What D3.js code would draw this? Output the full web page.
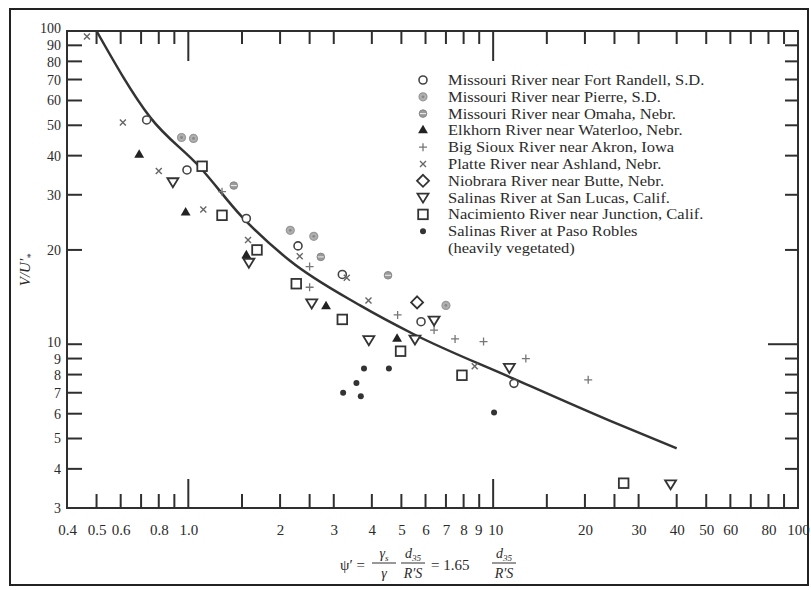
<!DOCTYPE html>
<html><head><meta charset="utf-8">
<script src="https://cdn.jsdelivr.net/npm/d3@7/dist/d3.min.js"></script>
<style>
html,body{margin:0;padding:0;background:#fff;}
svg{display:block;}
text{font-family:"Liberation Serif","Times New Roman",serif;fill:#2b2b2b;}
</style></head>
<body>
<svg id="chart" width="811" height="590"></svg>
<script>
// ---------- data ----------
const xTickLabels = ["0.4","0.5","0.6","0.8","1.0","2","3","4","5","6","7","8","9","10","20","30","40","50","60","80","100"];
const xTickLabelValues = [0.4,0.5,0.6,0.8,1,2,3,4,5,6,7,8,9,10,20,30,40,50,60,80,100];
const xMinorTicks = [0.5,0.6,0.7,0.8,0.9,1.5,2,2.5,3,4,5,6,7,8,9,15,20,25,30,40,50,60,70,80,90];
const xMajorTicks = [1,10];
const yTickValues = [3,4,5,6,7,8,9,10,20,30,40,50,60,70,80,90,100];
const yTickLabels = ["3","4","5","6","7","8","9","10","20","30","40","50","60","70","80","90","100"];

const curve = [[0.5,100],[0.75,53],[1.09,36.8],[1.5,25.5],[2.15,18.5],[3.66,13.3],[5.45,10.8],[11.6,7.78],[24.1,5.7],[40,4.65]];

const fortRandell = [[0.73,52],[0.99,36],[1.55,25.2],[2.29,20.6],[3.2,16.7],[5.8,11.8],[11.7,7.5]];
const pierre = [[0.95,45.7],[1.04,45.4],[2.16,23.1],[2.58,22.1],[7.0,13.3]];
const omaha = [[1.41,32.1],[2.72,19.0],[4.52,16.6]];
const elkhorn = [[0.69,40.2],[0.98,26.3],[1.55,19.2],[2.83,13.2],[4.84,10.4]];
const bigSioux = [[1.29,30.7],[2.5,17.7],[2.5,15.2],[4.86,12.4],[6.4,11.1],[7.5,10.4],[9.3,10.2],[12.8,9.0],[20.5,7.7]];
const platte = [[0.465,96],[0.61,51],[0.80,35.7],[1.12,26.9],[1.57,21.5],[2.32,19.1],[3.31,16.3],[3.9,13.8],[8.7,8.5]];
const niobrara = [[5.63,13.6]];
const sanLucas = [[0.89,32.9],[1.58,18.2],[2.54,13.5],[3.91,10.3],[5.54,10.35],[6.4,11.9],[11.3,8.4],[38.2,3.57]];
const nacimiento = [[1.11,37],[1.29,25.8],[1.68,20.0],[2.26,15.6],[3.2,12.0],[4.97,9.5],[7.9,7.96],[26.8,3.6]];
const pasoRobles = [[3.77,8.36],[4.55,8.37],[3.56,7.52],[3.22,7.0],[3.68,6.82],[10.07,6.05]];

const legendLabels = [
  "Missouri River near Fort Randell, S.D.",
  "Missouri River near Pierre, S.D.",
  "Missouri River near Omaha, Nebr.",
  "Elkhorn River near Waterloo, Nebr.",
  "Big Sioux River near Akron, Iowa",
  "Platte River near Ashland, Nebr.",
  "Niobrara River near Butte, Nebr.",
  "Salinas River at San Lucas, Calif.",
  "Nacimiento River near Junction, Calif.",
  "Salinas River at Paso Robles",
  "(heavily vegetated)"
];

// ---------- setup ----------
const svg = d3.select("#chart");
const ink = "#2f2f2f";
const x = d3.scaleLog().domain([0.4,100]).range([67,798]);
const y = d3.scaleLog().domain([3,100]).range([508,31]);

// outer border
svg.append("rect").attr("x",10).attr("y",9).attr("width",798).attr("height",576)
  .attr("fill","none").attr("stroke","#222").attr("stroke-width",2);

// plot frame
svg.append("rect").attr("x",x(0.4)).attr("y",y(100)).attr("width",x(100)-x(0.4)).attr("height",y(3)-y(100))
  .attr("fill","none").attr("stroke",ink).attr("stroke-width",2);

// tick marks (drawn from the scales)
const tk = svg.append("g").attr("stroke",ink).attr("stroke-width",2);
function vTicks(vals, y0, len){
  tk.append("g").selectAll("line").data(vals).join("line")
    .attr("x1",d=>x(d)).attr("x2",d=>x(d)).attr("y1",y0).attr("y2",y0+len);
}
function hTicks(vals, x0, len){
  tk.append("g").selectAll("line").data(vals).join("line")
    .attr("y1",d=>y(d)).attr("y2",d=>y(d)).attr("x1",x0).attr("x2",x0+len);
}
vTicks(xMinorTicks, y(3), -14);
vTicks(xMajorTicks, y(3), -29);
vTicks(xMinorTicks, y(100), 13);
vTicks(xMajorTicks, y(100), 30);
hTicks(yTickValues, x(0.4), 15);
hTicks(yTickValues.filter(v=>v!==10), x(100), -13);
hTicks([10], x(100), -30);

// tick labels via axes
function styleAxis(g, fs){
  g.select(".domain").remove();
  g.selectAll(".tick line").remove();
  g.selectAll(".tick text").style("font-size",fs).attr("fill",ink)
   .style("font-family","'Liberation Serif','Times New Roman',serif");
}
const gx = svg.append("g").attr("transform",`translate(0,${y(3)})`)
  .call(d3.axisBottom(x).tickValues(xTickLabelValues).tickSize(0).tickPadding(16)
    .tickFormat((d,i)=>xTickLabels[i]));
styleAxis(gx,"15px");
gx.selectAll(".tick text").filter(d=>d===10).attr("dx",2);
gx.selectAll(".tick text").filter(d=>d===9).attr("dx",-1);

const gy = svg.append("g").attr("transform",`translate(${x(0.4)},0)`)
  .call(d3.axisLeft(y).tickValues(yTickValues).tickSize(0).tickPadding(6)
    .tickFormat((d,i)=>yTickLabels[i]));
styleAxis(gy,"14px");
gy.selectAll(".tick text").filter(d=>d===100).attr("dy","0.1em");
gy.selectAll(".tick text").filter(d=>d===80).attr("dy","0.36em");
gy.selectAll(".tick text").filter(d=>d===10).attr("dy","0.17em");

// curve
svg.append("path").datum(curve)
  .attr("d",d3.line().x(d=>x(d[0])).y(d=>y(d[1])).curve(d3.curveMonotoneX))
  .attr("fill","none").attr("stroke","#333").attr("stroke-width",2.5);

// ---------- symbols ----------
const sym = {
  circle:(g)=>g.append("circle").attr("r",4).attr("fill","#fff").attr("stroke","#444").attr("stroke-width",1.6),
  pierre:(g)=>{g.append("circle").attr("r",4).attr("fill","#b0b0b0").attr("stroke","#999").attr("stroke-width",1.2);
               g.append("circle").attr("r",1.4).attr("fill","#888");},
  omaha:(g)=>{g.append("circle").attr("r",3.8).attr("fill","#9a9a9a").attr("stroke","#888").attr("stroke-width",1);
              g.append("line").attr("x1",-3).attr("x2",3).attr("stroke","#eee").attr("stroke-width",1);},
  triUp:(g)=>g.append("path").attr("d",d3.symbol(d3.symbolTriangle,42)()).attr("fill","#222"),
  plus:(g)=>g.append("path").attr("d","M-4,0H4M0,-4V4").attr("stroke","#777").attr("stroke-width",1.3),
  times:(g)=>g.append("path").attr("d","M-3,-3L3,3M-3,3L3,-3").attr("stroke","#666").attr("stroke-width",1.4),
  diamond:(g)=>g.append("path").attr("d","M0,-6L6,0L0,6L-6,0Z").attr("fill","#fff").attr("stroke","#333").attr("stroke-width",1.8),
  triDown:(g)=>g.append("path").attr("d","M-5.5,-4L5.5,-4L0,5Z").attr("fill","#fff").attr("stroke","#333").attr("stroke-width",1.8),
  square:(g)=>g.append("rect").attr("x",-4.8).attr("y",-4.8).attr("width",9.6).attr("height",9.6).attr("fill","#fff").attr("stroke","#333").attr("stroke-width",1.8),
  dot:(g)=>g.append("circle").attr("r",3).attr("fill","#333")
};

const series = [
  [fortRandell,"circle"],[pierre,"pierre"],[omaha,"omaha"],[elkhorn,"triUp"],[bigSioux,"plus"],
  [platte,"times"],[niobrara,"diamond"],[sanLucas,"triDown"],[nacimiento,"square"],[pasoRobles,"dot"]
];

const pts = svg.append("g");
series.forEach(([data,s])=>{
  pts.selectAll(null).data(data).enter().append("g")
    .attr("transform",d=>`translate(${x(d[0])},${y(d[1])})`)
    .each(function(){ sym[s](d3.select(this)); });
});

// ---------- legend ----------
const lg = svg.append("g");
legendLabels.forEach((t,i)=>{
  const yy = 80 + i*16.8;
  if(i < series.length){
    const g = lg.append("g").attr("transform",`translate(423,${yy})`);
    sym[series[i][1]](g);
  }
  lg.append("text").attr("transform",`translate(448,${yy+5}) scale(1.13,1)`)
    .style("font-size","14.6px").text(t);
});

// ---------- axis titles ----------
const yl = svg.append("text").attr("transform","translate(30,270) rotate(-90)")
  .attr("text-anchor","middle").style("font-size","15px").style("font-style","italic");
yl.append("tspan").text("V/U′");
yl.append("tspan").attr("dy",4).style("font-size","10px").text("*");

const xl = svg.append("g").style("font-size","15px");
xl.append("text").attr("x",340).attr("y",570).text("ψ′ =");
function frac(cx, num, numSub, den){
  const n = xl.append("text").attr("x",cx).attr("y",558).attr("text-anchor","middle").style("font-style","italic").style("font-size","14px");
  n.append("tspan").text(num);
  n.append("tspan").attr("dy",3).style("font-size","9px").text(numSub);
  xl.append("line").attr("x1",cx-12).attr("x2",cx+12).attr("y1",563).attr("y2",563).attr("stroke","#333").attr("stroke-width",1);
  xl.append("text").attr("x",cx).attr("y",578).attr("text-anchor","middle").style("font-style","italic").style("font-size","14px").text(den);
}
frac(384,"γ","s","γ");
frac(413,"d","35","R′S");
xl.append("text").attr("x",431).attr("y",570).text("= 1.65");
frac(504,"d","35","R′S");
</script>
</body></html>
